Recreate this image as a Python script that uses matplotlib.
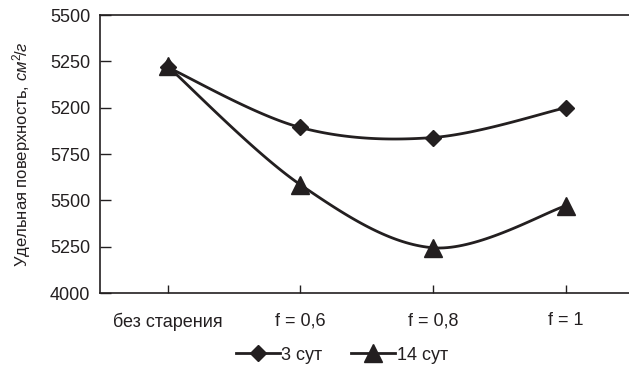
import numpy as np
import matplotlib
matplotlib.use("Agg")
import matplotlib.pyplot as plt
from matplotlib.lines import Line2D

plt.rcParams["font.family"] = ["Liberation Sans", "DejaVu Sans"]
plt.rcParams["mathtext.fontset"] = "custom"
plt.rcParams["mathtext.rm"] = "Liberation Sans"
plt.rcParams["mathtext.it"] = "Liberation Sans:italic"

categories = ["без старения", "f = 0,6", "f = 0,8", "f = 1"]
series_3d = [6218, 5893, 5839, 6000]
series_14d = [6223, 5584, 5244, 5471]
y_ticks = [5000, 5250, 5500, 5750, 6000, 6250, 6500]
y_tick_labels = ["4000", "5250", "5500", "5750", "5200", "5250", "5500"]
legend_labels = ["3 сут", "14 сут"]


def smooth(x, y, n=40):
    """Bezier smoothing through the points (Catmull-Rom style, tension 1/6)."""
    x = np.asarray(x, float)
    y = np.asarray(y, float)
    px = np.concatenate([[x[0]], x, [x[-1]]])
    py = np.concatenate([[y[0]], y, [y[-1]]])
    xs, ys = [], []
    t = np.linspace(0, 1, n)
    for i in range(1, len(px) - 2):
        p0 = np.array([px[i], py[i]])
        p3 = np.array([px[i + 1], py[i + 1]])
        c1 = p0 + (np.array([px[i + 1], py[i + 1]]) - np.array([px[i - 1], py[i - 1]])) / 6
        c2 = p3 - (np.array([px[i + 2], py[i + 2]]) - np.array([px[i], py[i]])) / 6
        b = ((1 - t) ** 3)[:, None] * p0 + (3 * (1 - t) ** 2 * t)[:, None] * c1 \
            + (3 * (1 - t) * t ** 2)[:, None] * c2 + (t ** 3)[:, None] * p3
        xs.append(b[:, 0])
        ys.append(b[:, 1])
    return np.concatenate(xs), np.concatenate(ys)


fig = plt.figure(figsize=(6.29, 3.70), dpi=100)
ax = fig.add_axes([100 / 629, 1 - 293 / 370, 1 - 100 / 629, (293 - 15) / 370])

xpos = np.arange(len(categories))
color = "#231f20"

sx, sy = smooth(xpos, series_14d)
ax.plot(sx, sy, color=color, lw=2, solid_capstyle="round")
ax.plot(xpos, series_14d, ls="none", marker="^", ms=12.5, color=color)

sx, sy = smooth(xpos, series_3d)
ax.plot(sx, sy, color=color, lw=2, solid_capstyle="round")
ax.plot(xpos, series_3d, ls="none", marker="D", ms=8.5, color=color)

ax.set_xlim(-0.51, 3.475)
ax.set_ylim(5000, 6500)
ax.set_yticks(y_ticks)
ax.set_yticklabels(y_tick_labels, fontsize=13)
ax.set_xticks(xpos)
ax.set_xticklabels(categories, fontsize=13)
ax.tick_params(axis="y", direction="in", length=8, width=1, pad=7, colors=color)
ax.tick_params(axis="x", direction="in", length=6, width=1, pad=14, colors=color)

for side in ["left", "bottom", "top"]:
    ax.spines[side].set_linewidth(1.2)
    ax.spines[side].set_color(color)
ax.spines["right"].set_visible(False)

ax.set_ylabel(r"Удельная поверхность, $\mathit{см}^{2}\!/\mathit{г}$", fontsize=12,
              color=color, labelpad=12)

handles = [
    Line2D([], [], color=color, lw=2, marker="D", ms=8.5),
    Line2D([], [], color=color, lw=2, marker="^", ms=12.5),
]
fig.legend(handles, legend_labels, loc="center", bbox_to_anchor=(342 / 629, 1 - 355 / 370),
           ncol=2, frameon=False, fontsize=13, handlelength=2.4, handletextpad=0.1,
           columnspacing=1.6, labelcolor=color)

fig.savefig("out.png", dpi=100)
